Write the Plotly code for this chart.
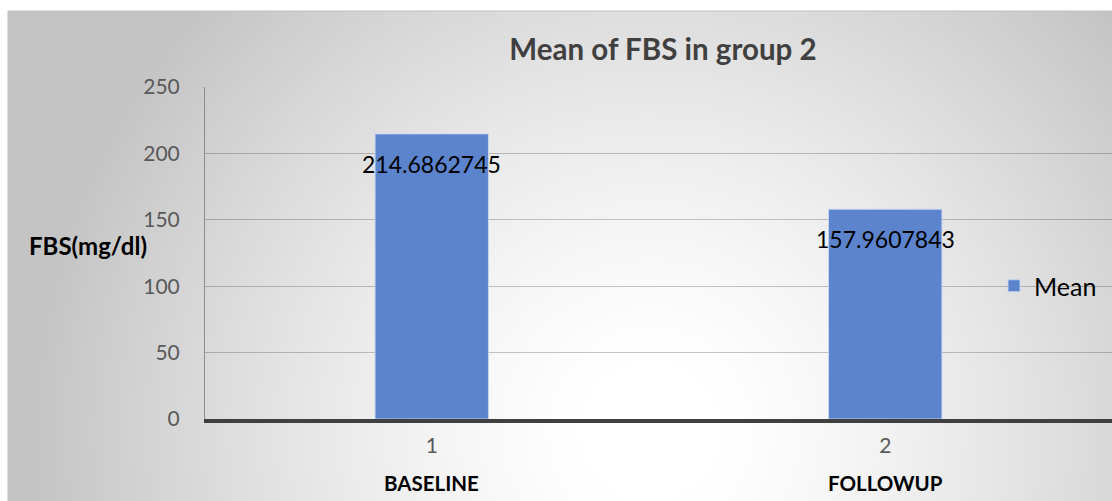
import base64
import struct
import zlib

import plotly.graph_objects as go

# ---- data ----
categories = ["1", "2"]
category_names = ["BASELINE", "FOLLOWUP"]
mean_values = [214.6862745, 157.9607843]
series_name = "Mean"
y_ticks = [0, 50, 100, 150, 200, 250]

W, H = 1112, 501
FONT = "Lato"


def gradient_png():
    # radial grey background (decoration only)
    w, h = 278, 123
    x0, x1, y0, y1 = 8, 1112, 11, 501
    cx, cy, R = 650, 430, 620
    rows = []
    for j in range(h):
        py = y0 + (j + 0.5) * (y1 - y0) / h
        row = bytearray([0])
        for i in range(w):
            px = x0 + (i + 0.5) * (x1 - x0) / w
            r = ((px - cx) ** 2 + (py - cy) ** 2) ** 0.5
            t = min(max((r - 60) / (R - 60), 0.0), 1.0)
            v = int(round(255 - (255 - 196) * t ** 1.3))
            row.append(v)
        rows.append(bytes(row))
    raw = b"".join(rows)

    def chunk(tag, data):
        c = struct.pack(">I", len(data)) + tag + data
        return c + struct.pack(">I", zlib.crc32(tag + data) & 0xFFFFFFFF)

    png = b"\x89PNG\r\n\x1a\n"
    png += chunk(b"IHDR", struct.pack(">IIBBBBB", w, h, 8, 0, 0, 0, 0))
    png += chunk(b"IDAT", zlib.compress(raw, 9))
    png += chunk(b"IEND", b"")
    return "data:image/png;base64," + base64.b64encode(png).decode()


fig = go.Figure()
fig.add_trace(go.Bar(
    x=categories,
    y=mean_values,
    name=series_name,
    width=0.25,
    marker=dict(color="#5b84cd", line=dict(color="rgba(200,215,240,0.9)", width=1)),
    showlegend=True,
))

annotations = []
for i, v in enumerate(mean_values):
    annotations.append(dict(
        x=i, y=v, xref="x", yref="y", text=str(v), showarrow=False,
        yanchor="middle", yshift=-30,
        font=dict(family=FONT, size=23, color="#000000"),
    ))
for i, n in enumerate(category_names):
    annotations.append(dict(
        x=i, y=1 - 483 / H, xref="x", yref="paper", text="<b>" + n + "</b>",
        showarrow=False, yanchor="middle",
        font=dict(family=FONT, size=20.5, color="#000000"),
    ))
annotations.append(dict(
    x=88 / W, y=1 - 245 / H, xref="paper", yref="paper", text="<b>FBS(mg/dl)</b>",
    showarrow=False, xanchor="center", yanchor="middle",
    font=dict(family=FONT, size=24, color="#000000"),
))

fig.update_layout(
    width=W, height=H,
    margin=dict(l=0, r=0, t=0, b=0, pad=0, autoexpand=False),
    paper_bgcolor="#ffffff",
    plot_bgcolor="rgba(0,0,0,0)",
    title=dict(
        text="<b>Mean of FBS in group 2</b>",
        x=663 / W, y=1 - 50 / H, xanchor="center", yanchor="middle",
        font=dict(family=FONT, size=29.5, color="#404040"),
    ),
    xaxis=dict(
        domain=[205 / W, 1.0],
        range=[-0.5, 1.5],
        type="category",
        automargin=False,
        showgrid=False,
        showline=True, linecolor="#404040", linewidth=4,
        ticks="", ticklabelstandoff=5,
        tickfont=dict(family=FONT, size=21, color="#595959"),
        zeroline=False,
    ),
    yaxis=dict(
        domain=[1 - 419 / H, 1 - 87 / H],
        range=[0, 250],
        tickvals=y_ticks,
        automargin=False,
        showgrid=True, gridcolor="rgba(0,0,0,0.22)", gridwidth=1,
        showline=True, linecolor="#8c8c8c", linewidth=1,
        ticks="", ticklabelstandoff=20,
        tickfont=dict(family=FONT, size=21, color="#595959"),
        zeroline=False,
    ),
    legend=dict(
        x=994 / W, y=1 - 286 / H, xanchor="left", yanchor="middle",
        bgcolor="rgba(0,0,0,0)", borderwidth=0,
        font=dict(family=FONT, size=25, color="#000000"),
    ),
    annotations=annotations,
    images=[dict(
        source=gradient_png(), xref="paper", yref="paper",
        x=8 / W, y=1 - 11 / H, sizex=1 - 8 / W, sizey=1 - 11 / H,
        xanchor="left", yanchor="top", sizing="stretch", layer="below",
    )],
    shapes=[
        dict(type="line", xref="paper", yref="paper", x0=8 / W, x1=1, y0=1 - 11 / H, y1=1 - 11 / H,
             line=dict(color="#c0c0c0", width=1)),
        dict(type="line", xref="paper", yref="paper", x0=8 / W, x1=8 / W, y0=0, y1=1 - 11 / H,
             line=dict(color="#c0c0c0", width=1)),
    ],
    bargap=0.75,
)

fig.write_html("out.html")
